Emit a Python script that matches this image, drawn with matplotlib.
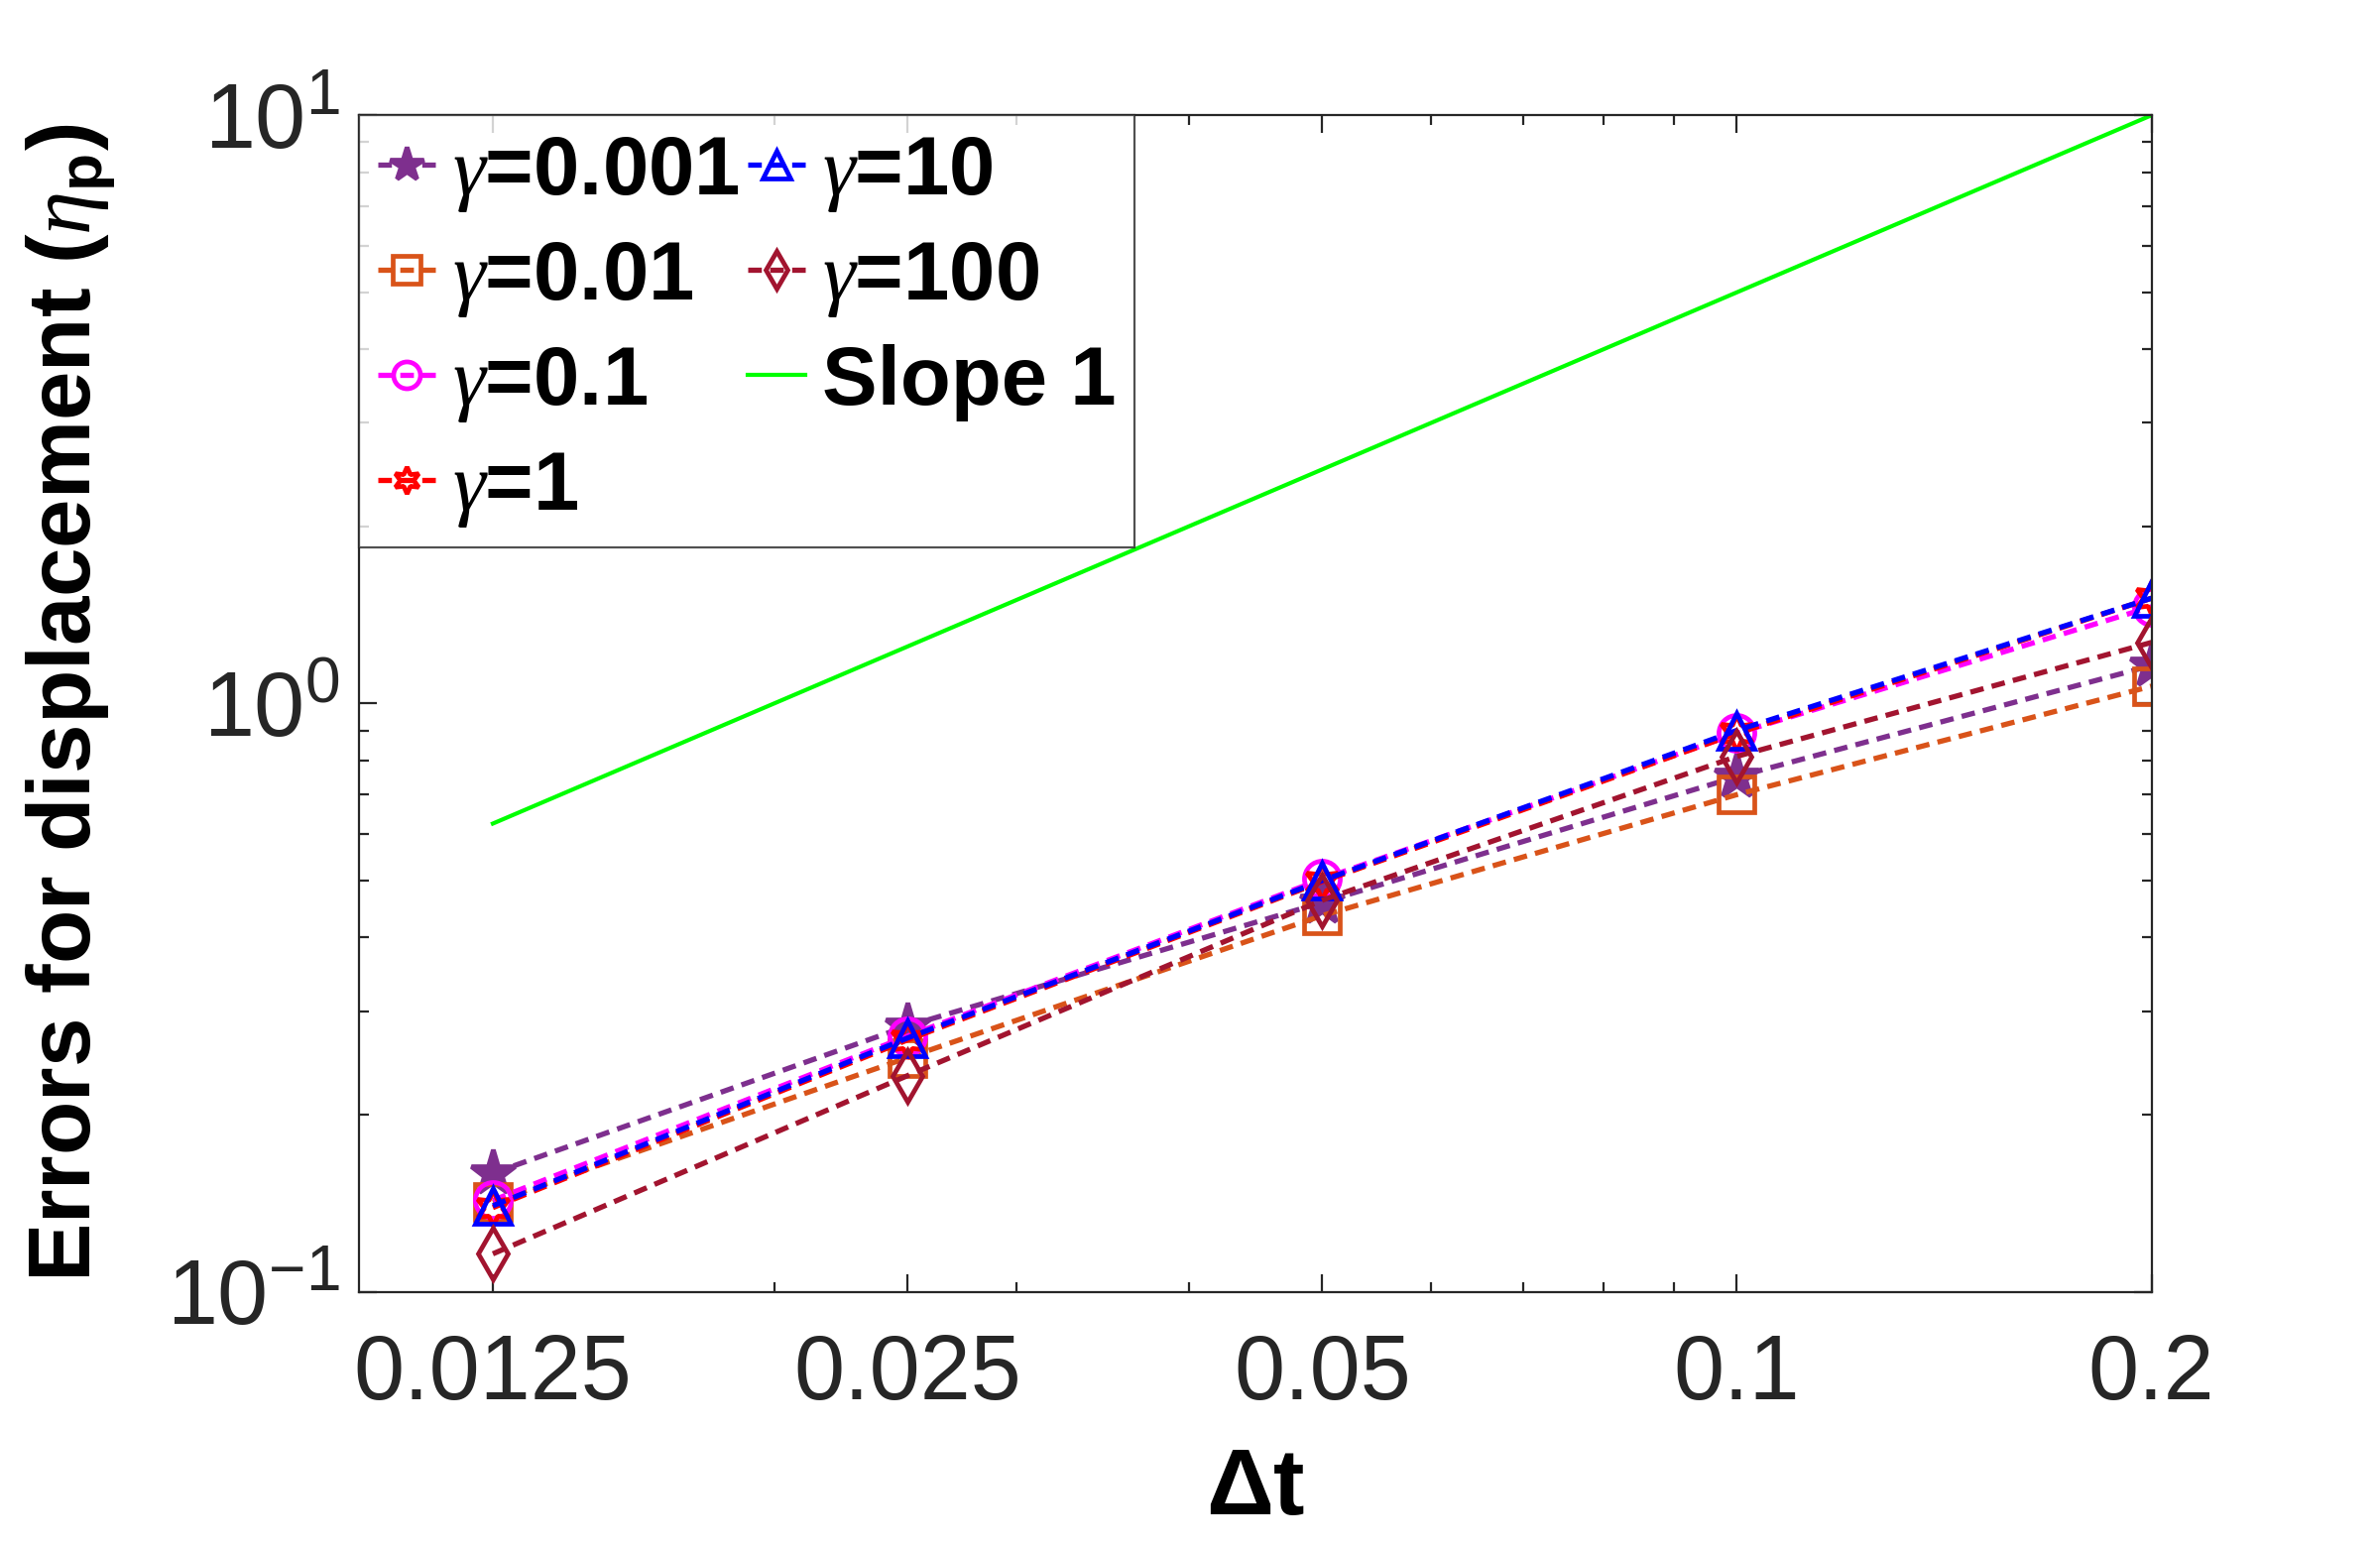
import matplotlib
matplotlib.use("Agg")
from matplotlib import pyplot as plt
from matplotlib.ticker import FixedLocator, FixedFormatter, LogLocator, NullFormatter

plt.rcParams['font.family'] = ['Liberation Sans', 'DejaVu Sans']
plt.rcParams['mathtext.fontset'] = 'custom'
plt.rcParams['mathtext.rm'] = 'Liberation Sans'
plt.rcParams['mathtext.it'] = 'Liberation Serif:italic'
plt.rcParams['mathtext.bf'] = 'Liberation Sans:bold'

# time steps
dt = [0.0125, 0.025, 0.05, 0.1, 0.2]
dt_labels = ['0.0125', '0.025', '0.05', '0.1', '0.2']

# displacement errors per gamma
err_g0001 = [0.159, 0.283, 0.459, 0.751, 1.16]
err_g001 = [0.142, 0.250, 0.436, 0.700, 1.07]
err_g01 = [0.143, 0.272, 0.503, 0.89, 1.46]
err_g1 = [0.139, 0.268, 0.498, 0.89, 1.51]
err_g10 = [0.140, 0.270, 0.500, 0.90, 1.51]
err_g100 = [0.116, 0.233, 0.463, 0.813, 1.27]
slope1 = [0.625, 1.25, 2.5, 5.0, 10.0]

series = [
    (err_g0001, r'$\gamma$=0.001', '#7E2F8E', '*', True),
    (err_g001, r'$\gamma$=0.01', '#D95319', 's', False),
    (err_g01, r'$\gamma$=0.1', '#FF00FF', 'o', False),
    (err_g1, r'$\gamma$=1', '#FF0000', (6, 1, 0), False),
    (err_g10, r'$\gamma$=10', '#0000FF', '^', False),
    (err_g100, r'$\gamma$=100', '#A2142F', 'd', False),
]

fig = plt.figure(figsize=(12, 7.8), dpi=200)
ax = fig.add_axes([0.151, 0.165, 0.753, 0.7605])

for vals, label, color, marker, filled in series:
    ms = 17 if marker == '*' else 13
    ax.plot(dt, vals, linestyle=(0, (2.6, 1.6)), linewidth=1.9, color=color,
            marker=marker, markersize=ms, markeredgewidth=1.7,
            markerfacecolor=color if filled else 'none',
            label=label)
ax.plot(dt, slope1, '-', color='#00FF00', linewidth=1.5, label='Slope 1')

ax.set_xscale('log')
ax.set_yscale('log')
ax.set_xlim(0.01, 0.2)
ax.set_ylim(0.1, 10)

ax.xaxis.set_major_locator(FixedLocator(dt))
ax.xaxis.set_major_formatter(FixedFormatter(dt_labels))
ax.xaxis.set_minor_locator(LogLocator(base=10, subs=range(2, 10)))
ax.xaxis.set_minor_formatter(NullFormatter())
ax.yaxis.set_minor_locator(LogLocator(base=10, subs=range(2, 10)))
ax.yaxis.set_minor_formatter(NullFormatter())

ax.tick_params(which='both', direction='in', top=True, right=True,
               colors='#262626', width=0.8)
ax.tick_params(which='major', length=6.5, labelsize=33)
ax.tick_params(which='minor', length=3.5)
ax.tick_params(axis='x', which='major', pad=15)
ax.tick_params(axis='y', which='major', pad=7)
for sp in ax.spines.values():
    sp.set_color('#262626')
    sp.set_linewidth(0.8)

ax.set_xlabel(r'$\mathbf{\Delta}$t', fontsize=34, fontweight='bold', labelpad=10)
ax.set_ylabel(r'Errors for displacement ($\eta_{\mathbf{p}}$)', fontsize=32,
              fontweight='bold', labelpad=18)

leg = ax.legend(loc='upper left', ncol=2, prop={'weight': 'bold', 'size': 30},
                frameon=True, fancybox=False, borderaxespad=0, handlelength=0.7,
                handletextpad=0.2, columnspacing=0.1, labelspacing=0.3,
                borderpad=0.22, markerscale=0.75)
leg.get_frame().set_edgecolor('#262626')
leg.get_frame().set_linewidth(0.8)

fig.savefig('out.png', dpi=200)
